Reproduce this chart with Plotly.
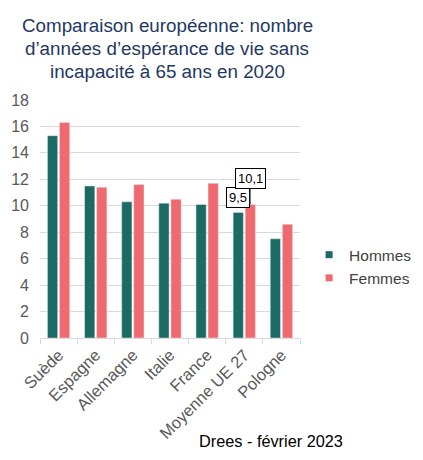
import plotly.graph_objects as go

categories = ["Suède", "Espagne", "Allemagne", "Italie", "France", "Moyenne UE 27", "Pologne"]
hommes = [15.3, 11.5, 10.3, 10.2, 10.1, 9.5, 7.5]
femmes = [16.3, 11.4, 11.6, 10.5, 11.7, 10.1, 8.6]
y_ticks = [0, 2, 4, 6, 8, 10, 12, 14, 16, 18]
title_lines = ["Comparaison européenne: nombre",
               "d’années d’espérance de vie sans",
               "incapacité à 65 ans en 2020"]
colors = {"Hommes": "#1B6A63", "Femmes": "#EE6A6F"}

FONT = "Arial, Liberation Sans, sans-serif"

# page body has an 8px default margin: figure is sized so that it fills the 423x460 window
fig = go.Figure()
fig.add_trace(go.Bar(name="Hommes", x=categories, y=hommes, marker_color=colors["Hommes"], showlegend=False))
fig.add_trace(go.Bar(name="Femmes", x=categories, y=femmes, marker_color=colors["Femmes"], showlegend=False))
for name in ["Hommes", "Femmes"]:
    fig.add_trace(go.Scatter(name=name, x=[None], y=[None], mode="markers",
                             marker=dict(symbol="square", size=7, color=colors[name])))

fig.update_layout(
    width=415, height=452,
    margin=dict(l=32, r=123, t=92, b=122, autoexpand=False),
    paper_bgcolor="white", plot_bgcolor="white",
    barmode="group", bargap=0.35, bargroupgap=0.15,
    font=dict(family=FONT, color="#595959"),
    legend=dict(
        x=1.035, xanchor="left", y=0.3, yanchor="middle",
        font=dict(size=15.5, color="#404040"), tracegroupgap=0,
        itemwidth=30, itemsizing="trace",
    ),
    showlegend=True,
)

for line, ypix in zip(title_lines, [25, 48.5, 71]):
    fig.add_annotation(
        text=line, xref="paper", yref="paper", x=0.49, y=(338 - ypix) / 238,
        xanchor="center", yanchor="middle", showarrow=False,
        font=dict(family=FONT, size=18.8, color="#1F3864"),
    )

fig.update_yaxes(
    range=[0, 18], tickvals=y_ticks, showgrid=True, gridcolor="#D9D9D9", gridwidth=1,
    zeroline=False, showline=False, tickfont=dict(size=16, color="#595959"),
    ticks="", ticklabelstandoff=10, fixedrange=True, automargin=False,
)
fig.update_xaxes(
    tickangle=-45, tickfont=dict(size=16.5, color="#595959"),
    showline=True, linecolor="#D9D9D9", linewidth=1,
    ticks="outside", tickson="boundaries", ticklen=5, tickcolor="#D9D9D9",
    automargin=False,
)

idx = categories.index("Moyenne UE 27")
fig.add_annotation(
    x=categories[idx], y=hommes[idx], xshift=-6,
    text=str(hommes[idx]).replace(".", ","), showarrow=False, yanchor="bottom", yshift=4,
    bordercolor="black", borderwidth=1, bgcolor="white", borderpad=2,
    font=dict(family=FONT, size=13, color="black"),
)
fig.add_annotation(
    x=categories[idx], y=femmes[idx], xshift=6,
    text=str(femmes[idx]).replace(".", ","), showarrow=True, arrowhead=0, arrowwidth=1,
    arrowcolor="#595959", ax=0, ay=-26,
    bordercolor="black", borderwidth=1, bgcolor="white", borderpad=2,
    font=dict(family=FONT, size=13, color="black"),
)
fig.add_annotation(
    text="Drees - février 2023", xref="paper", yref="paper", x=(270.5 - 40) / 260, y=(338 - 441) / 238,
    xanchor="center", yanchor="middle", showarrow=False,
    font=dict(family=FONT, size=16.3, color="black"),
)

fig.write_html("out.html")
